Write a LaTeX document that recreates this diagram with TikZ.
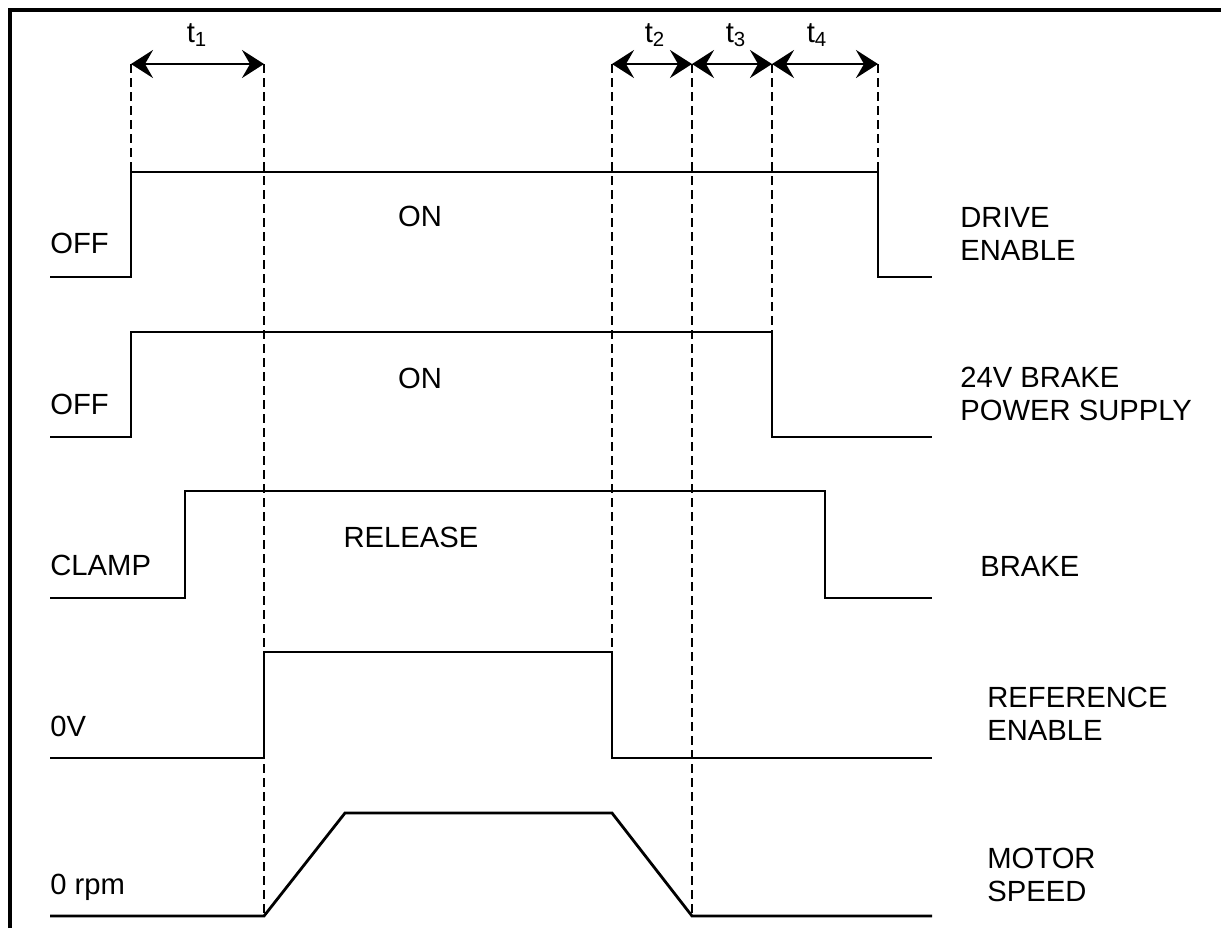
\documentclass[tikz,border=0pt]{standalone}
\usepackage{fontspec}
\setmainfont{Liberation Sans}
\usetikzlibrary{arrows.meta}
\begin{document}
\begin{tikzpicture}[x=0.5pt,y=-0.5pt,
  sig/.style={line width=1.4pt},
  guide/.style={line width=1.2pt,dash pattern=on 4.5pt off 2.5pt},
  dim/.style={line width=1.3pt,{Stealth[length=11pt,width=14pt,inset=4pt]}-{Stealth[length=11pt,width=14pt,inset=4pt]}},
  lbl/.style={inner sep=0pt,anchor=base west,align=left,font=\fontsize{14.6}{16.5}\selectfont},
  clbl/.style={inner sep=0pt,anchor=base,font=\fontsize{14.6}{16.5}\selectfont}]
\useasboundingbox (0,0) rectangle (1221,928);
% frame
\draw[line width=1.6pt] (10,928) -- (10,10) -- (1221,10);
% guide coordinates
\coordinate (a1) at (131,64); \coordinate (a2) at (264,64);
\coordinate (a3) at (612,64); \coordinate (a4) at (692,64);
\coordinate (a5) at (772,64); \coordinate (a6) at (878,64);
% dashed guides
\draw[guide] (a1) -- (131,172);
\draw[guide] (a2) -- (264,916);
\draw[guide] (a3) -- (612,652);
\draw[guide] (a4) -- (692,916);
\draw[guide] (a5) -- (772,332);
\draw[guide] (a6) -- (878,172);
% dimension arrows
\draw[dim] (a1) -- (a2);
\draw[dim] (a3) -- (a4);
\draw[dim] (a4) -- (a5);
\draw[dim] (a5) -- (a6);
\node[clbl] (t1) at (197,42) {t\textsubscript{1}};
\node[clbl] (t2) at (655,42) {t\textsubscript{2}};
\node[clbl] (t3) at (736,42) {t\textsubscript{3}};
\node[clbl] (t4) at (817,42) {t\textsubscript{4}};
% signals
\draw[sig] (50,277) -- (131,277) -- (131,172) -- (878,172) -- (878,277) -- (932,277);
\draw[sig] (50,437) -- (131,437) -- (131,332) -- (772,332) -- (772,437) -- (932,437);
\draw[sig] (50,598) -- (185,598) -- (185,491) -- (825,491) -- (825,598) -- (932,598);
\draw[sig] (50,758) -- (264,758) -- (264,652) -- (612,652) -- (612,758) -- (932,758);
\draw[sig] (50,916) -- (264,916) -- (345,813) -- (612,813) -- (692,916) -- (932,916);
% labels
\node[lbl] (off1) at (50,253) {OFF};
\node[clbl] (on1) at (420,226) {ON};
\node[lbl] (de) at (960,260) {DRIVE\\ENABLE};
\node[lbl] (off2) at (50,414) {OFF};
\node[clbl] (on2) at (420,388) {ON};
\node[lbl] (bp) at (960,420) {24V BRAKE\\POWER SUPPLY};
\node[lbl] (clamp) at (50,575) {CLAMP};
\node[clbl] (rel) at (411,547) {RELEASE};
\node[lbl] (brk) at (980,576) {BRAKE};
\node[lbl] (zv) at (50,736) {0V};
\node[lbl] (re) at (987,740) {REFERENCE\\ENABLE};
\node[lbl] (rpm) at (50,894) {0 rpm};
\node[lbl] (ms) at (987,901) {MOTOR\\SPEED};
\end{tikzpicture}
\end{document}
